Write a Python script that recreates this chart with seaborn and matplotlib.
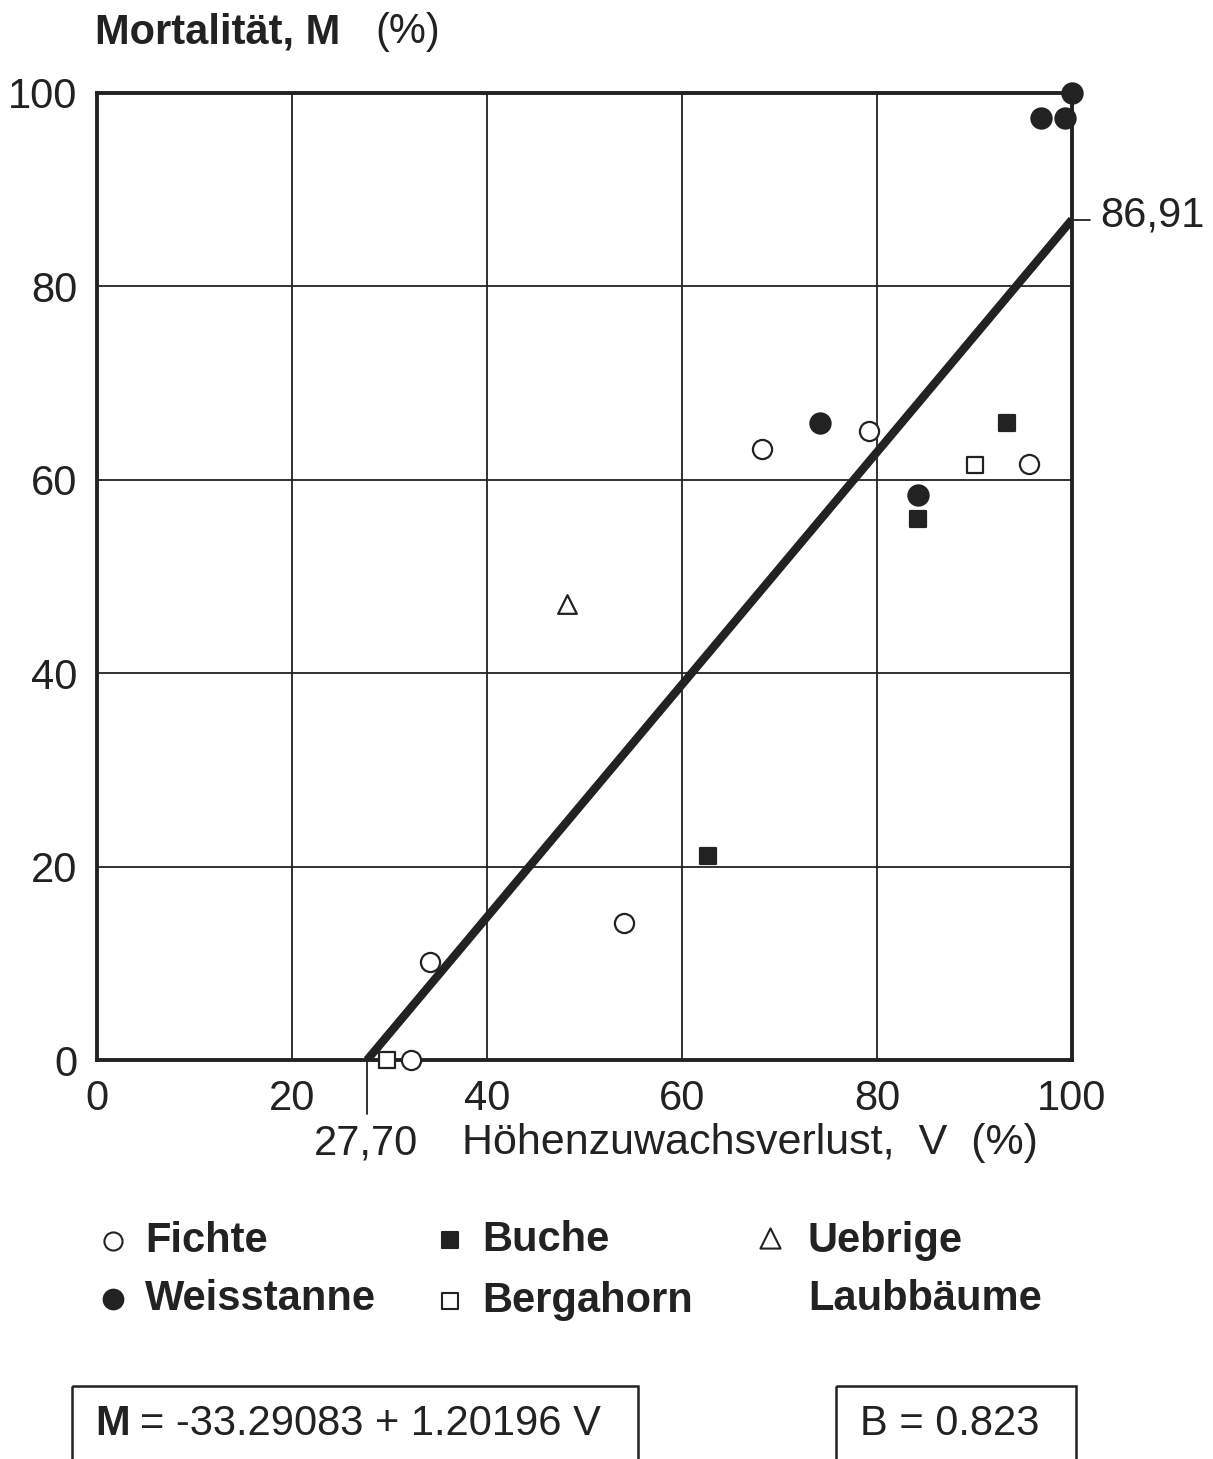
import matplotlib
matplotlib.use("Agg")
import matplotlib.pyplot as plt
from matplotlib.patches import Rectangle
import seaborn as sns
import pandas as pd

# data
fichte_v = [34.2, 32.2, 54.0, 68.2, 79.2, 95.6]
fichte_m = [10.1, 0.0, 14.2, 63.2, 65.0, 61.6]
tanne_v = [74.2, 84.2, 96.8, 99.3, 100.0]
tanne_m = [65.9, 58.4, 97.4, 97.4, 100.0]
buche_v = [62.7, 84.2, 93.3]
buche_m = [21.1, 55.9, 65.9]
ahorn_v = [29.7, 90.0]
ahorn_m = [0.0, 61.5]
uebrige_v = [48.2]
uebrige_m = [47.2]

fit_v = [27.70, 100.0]
fit_m = [0.0, 86.91]

ticks = [0, 20, 40, 60, 80, 100]

sns.set_theme(style="white")
plt.rcParams["font.family"] = ["Liberation Sans", "DejaVu Sans"]
plt.rcParams["text.color"] = "#222222"

fig = plt.figure(figsize=(12.13, 14.59), dpi=100)
ax = fig.add_axes([97 / 1213, 1 - 1060 / 1459, 975 / 1213, 967 / 1459])

for t in ticks[1:-1]:
    ax.axvline(t, color="#222222", lw=1.3, zorder=1)
    ax.axhline(t, color="#222222", lw=1.3, zorder=1)

sns.lineplot(x=fit_v, y=fit_m, ax=ax, color="#222222", lw=6, zorder=3,
             solid_capstyle="butt")

groups = [
    (fichte_v, fichte_m, "o", "white", 190),
    (tanne_v, tanne_m, "o", "#222222", 210),
    (buche_v, buche_m, "s", "#222222", 130),
    (ahorn_v, ahorn_m, "s", "white", 130),
    (uebrige_v, uebrige_m, "^", "white", 180),
]
for v, m, mk, fc, s in groups:
    df = pd.DataFrame({"V": v, "M": m})
    sns.scatterplot(data=df, x="V", y="M", ax=ax, marker=mk, s=s,
                    facecolor=fc, edgecolor="#222222", linewidth=1.6,
                    zorder=4, clip_on=False)

ax.set_xlim(0, 100)
ax.set_ylim(0, 100)
ax.set_xticks(ticks)
ax.set_yticks(ticks)
ax.tick_params(axis="both", length=0, labelsize=30, pad=14,
               labelcolor="#222222")
ax.set_xlabel("")
ax.set_ylabel("")
for sp in ax.spines.values():
    sp.set_color("#222222")
    sp.set_linewidth(2.8)

# intercept marks
ax.plot([27.70, 27.70], [0, -5.6], color="#222222", lw=1.3, clip_on=False)
ax.text(32.9, -8.6, "27,70", ha="right", va="center", fontsize=30,
        color="#222222")
ax.text(37.4, -8.6, "Höhenzuwachsverlust,  V  (%)", ha="left", va="center",
        fontsize=31, color="#222222")
ax.plot([100, 101.8], [86.91, 86.91], color="#222222", lw=1.3, clip_on=False)
ax.text(102.9, 87.3, "86,91", ha="left", va="center", fontsize=30,
        color="#222222")

fig.text(95 / 1213, 1 - 32 / 1459, "Mortalität, M", ha="left", va="center",
         fontsize=30, fontweight="bold", color="#222222")
fig.text(375 / 1213, 1 - 32 / 1459, "(%)", ha="left", va="center",
         fontsize=30, color="#222222")

# legend drawn in figure pixel coordinates
lg = fig.add_axes([0, 0, 1, 1], zorder=-1)
lg.set_xlim(0, 1213)
lg.set_ylim(1459, 0)
lg.axis("off")
leg = [
    (113, 1241, "o", "white", 170, "Fichte"),
    (113, 1299, "o", "#222222", 200, "Weisstanne"),
    (450, 1240, "s", "#222222", 140, "Buche"),
    (450, 1301, "s", "white", 120, "Bergahorn"),
    (770, 1238, "^", "white", 210, "Uebrige"),
]
for x, y, mk, fc, s, name in leg:
    lg.scatter([x], [y], marker=mk, s=s, facecolor=fc, edgecolor="#222222",
               linewidth=1.5)
    lg.text(x + 32 if x != 770 else 808, 1241 if x == 770 else y, name,
            ha="left", va="center", fontsize=30, fontweight="bold",
            color="#222222")
lg.text(808, 1299, "Laubbäume", ha="left", va="center", fontsize=30,
        fontweight="bold", color="#222222")

lg.add_patch(Rectangle((72, 1386), 566, 120, fill=False, ec="#222222", lw=1.8))
lg.add_patch(Rectangle((836, 1386), 240, 120, fill=False, ec="#222222", lw=1.8))
lg.text(95, 1424, "M", ha="left", va="center", fontsize=30, fontweight="bold",
        color="#222222")
lg.text(140, 1424, "= -33.29083 + 1.20196 V", ha="left", va="center",
        fontsize=30, color="#222222")
lg.text(860, 1424, "B = 0.823", ha="left", va="center", fontsize=30,
        color="#222222")

fig.savefig("out.png", dpi=100, facecolor="white")
